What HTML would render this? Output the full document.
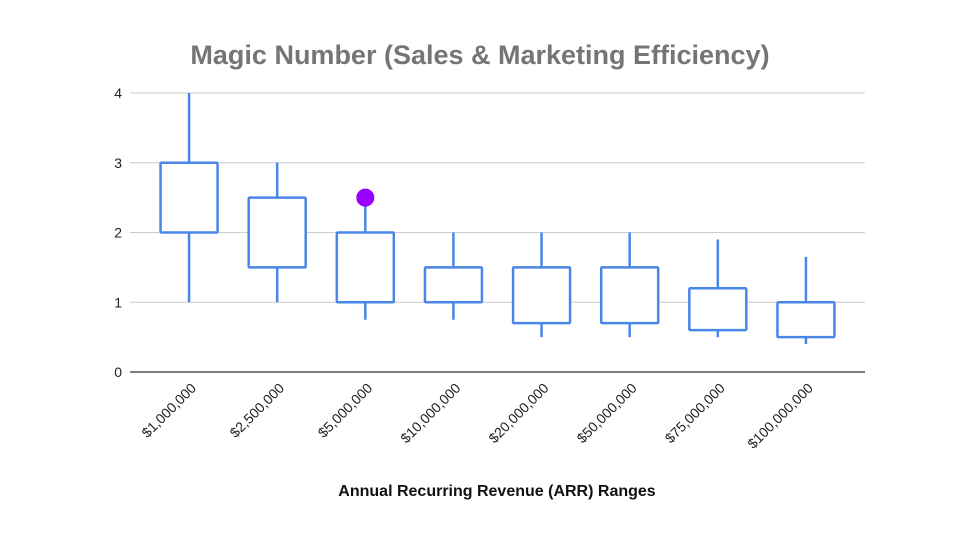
<!DOCTYPE html>
<html><head><meta charset="utf-8"><style>
body{margin:0;background:#fff;font-family:"Liberation Sans",Arial,sans-serif}
</style></head><body>
<svg id="chart" width="960" height="540" xmlns="http://www.w3.org/2000/svg">
<text x="480" y="64" text-anchor="middle" font-size="27" font-weight="bold" fill="#757575">Magic Number (Sales &amp; Marketing Efficiency)</text>
<text x="497" y="496" text-anchor="middle" font-size="16" font-weight="bold" fill="#111">Annual Recurring Revenue (ARR) Ranges</text>
<g id="grid"></g><g id="marks"></g><g id="labels"></g>
</svg>
<script>
const categories=["$1,000,000","$2,500,000","$5,000,000","$10,000,000","$20,000,000","$50,000,000","$75,000,000","$100,000,000"];
const lows=[1,1,0.75,0.75,0.5,0.5,0.5,0.4];
const q1s=[2,1.5,1,1,0.7,0.7,0.6,0.5];
const q3s=[3,2.5,2,1.5,1.5,1.5,1.2,1.0];
const highs=[4,3,2.5,2,2,2,1.9,1.65];
const outlierCat=[2];
const outlierVal=[2.5];
const yTicks=[0,1,2,3,4];
const NS="http://www.w3.org/2000/svg";
const x0=145,x1=850,gridEnd=865,yBase=372,yTop=93,yMax=4;
const bw=(x1-x0)/categories.length;
const xs=i=>x0+bw*(i+0.5);
const ys=v=>yBase-(v/yMax)*(yBase-yTop);
function mk(tag,attrs,parent){const e=document.createElementNS(NS,tag);for(const k in attrs)e.setAttribute(k,attrs[k]);document.getElementById(parent).appendChild(e);return e;}
yTicks.forEach(t=>{
 const l=mk('line',{x1:130,x2:gridEnd,y1:ys(t),y2:ys(t),stroke:t===0?'#333':'#ccc','stroke-width':t===0?1.3:1},'grid');
 
 
 const tx=mk('text',{x:122,y:ys(t)+5,'text-anchor':'end','font-size':14,fill:'#222'},'labels');
 tx.textContent=t;
 
 
});
const c='#4a86e8';
categories.forEach((cat,i)=>{
 const x=xs(i),w=57;
 const wl=mk('line',{x1:x,x2:x,y1:ys(highs[i]),y2:ys(lows[i]),stroke:c,'stroke-width':2.5},'marks');
 
 
 const r=mk('rect',{x:x-w/2,y:ys(q3s[i]),width:w,height:ys(q1s[i])-ys(q3s[i]),fill:'#fff',stroke:c,'stroke-width':2.5,rx:1},'marks');
 
 
 const tx=mk('text',{transform:`translate(${x+8},${yBase+17}) rotate(-45)`,'text-anchor':'end','font-size':14,fill:'#222'},'labels');
 tx.textContent=cat;
 
 
});
outlierCat.forEach((ci,k)=>{
 const d=mk('circle',{cx:xs(ci),cy:ys(outlierVal[k]),r:9,fill:'#9900ff'},'marks');
 
 
});
</script>
</body></html>
